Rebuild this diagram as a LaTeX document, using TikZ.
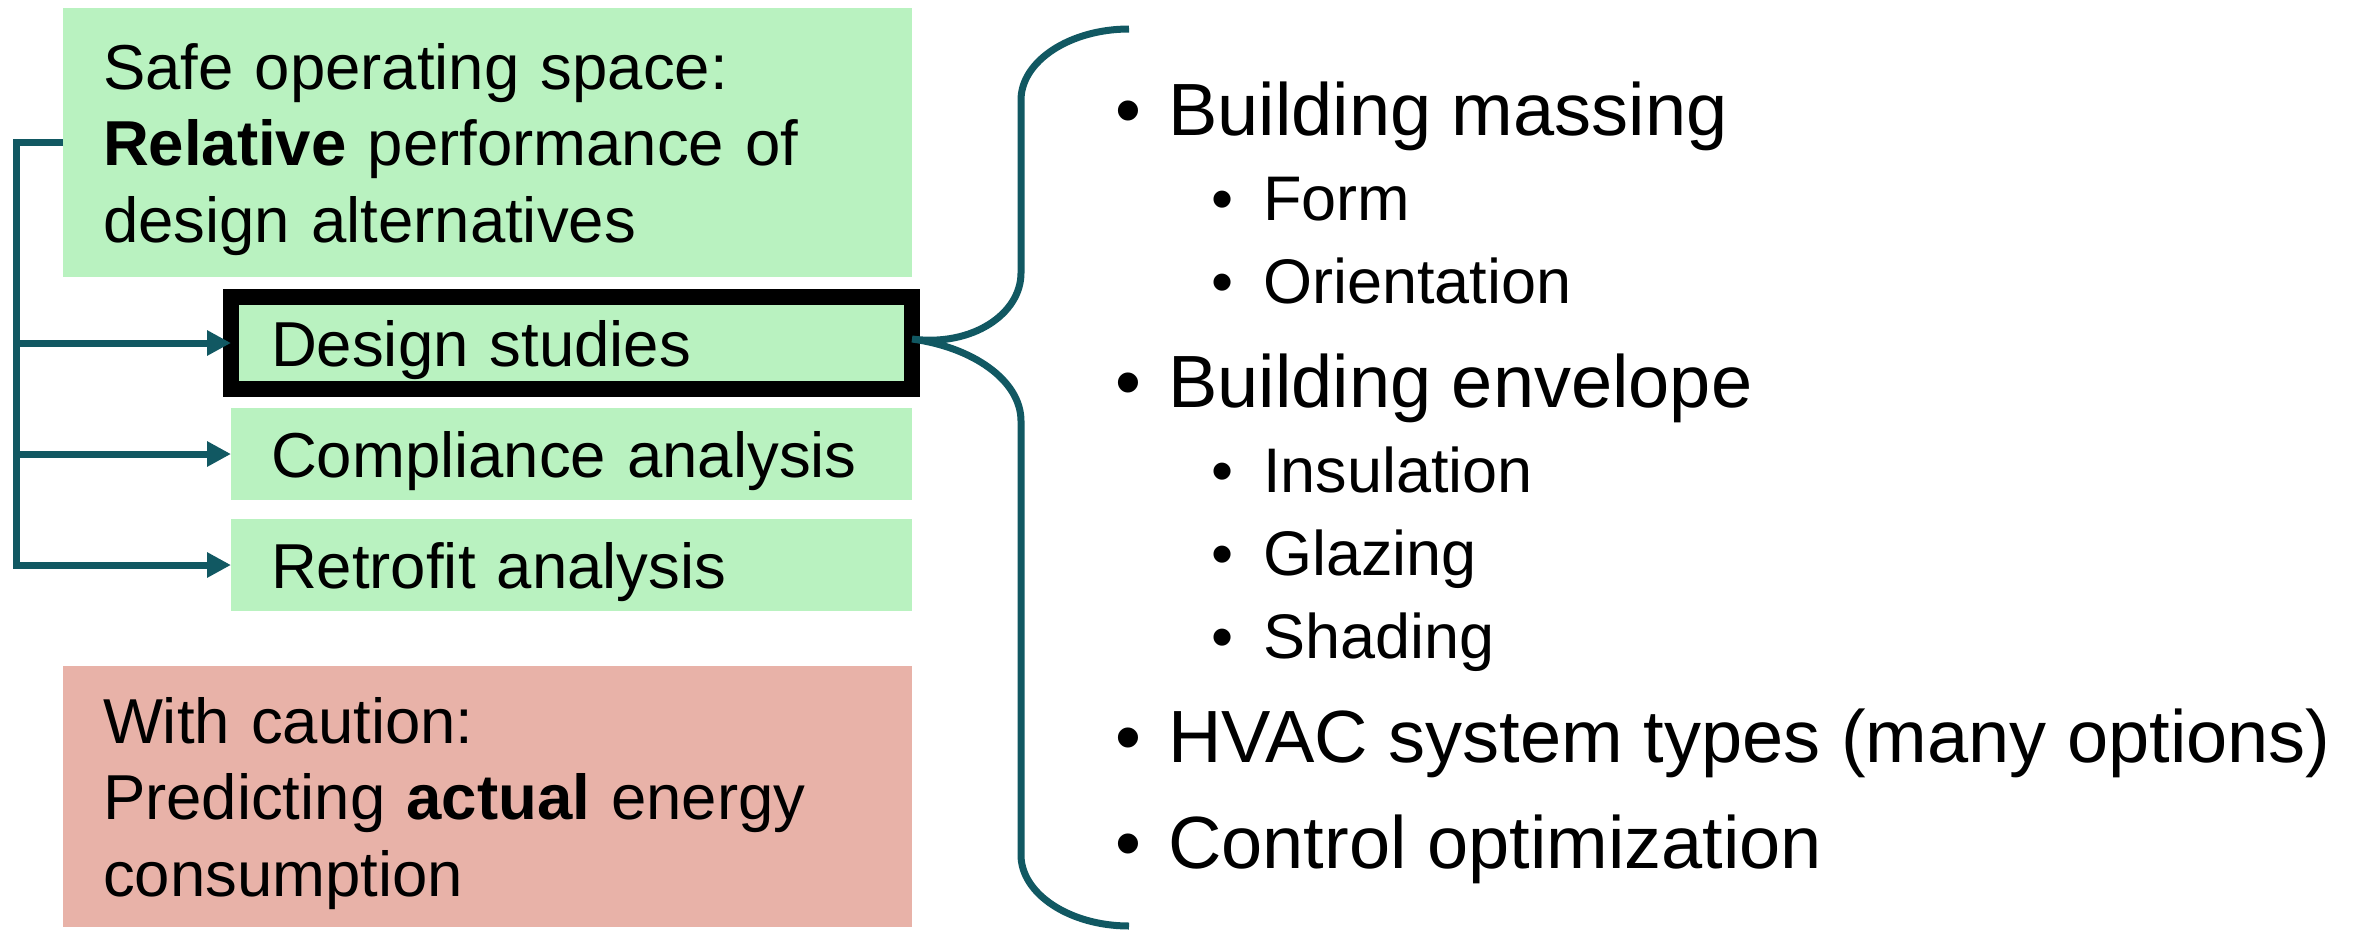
\documentclass[tikz,border=0pt]{standalone}
\usepackage{fontspec}
\setmainfont{Liberation Sans}
\usetikzlibrary{arrows.meta}
\definecolor{SafeGreen}{RGB}{185,242,192}
\definecolor{CautionRed}{RGB}{232,178,168}
\definecolor{LinkTeal}{RGB}{17,88,98}

\begin{document}
\begin{tikzpicture}[yscale=-1,x=1pt,y=1pt,
    panel/.style={fill=SafeGreen,anchor=north west,outer sep=0pt,
            inner xsep=40pt,inner ysep=0pt,align=left,
            font=\fontsize{63.5pt}{76.5pt}\selectfont,
            text height=46pt,text depth=0pt},
    tall/.style={text width=769pt,text depth=153pt},
    slim/.style={text width=601pt,minimum height=92pt},
    link/.style={draw=LinkTeal,line width=7pt},
    feed/.style={-{Triangle[length=24pt,width=24pt]}},
    item/.style={anchor=base west,inner sep=0pt,
            font=\fontsize{74pt}{89pt}\selectfont},
    subitem/.style={anchor=base west,inner sep=0pt,
            font=\fontsize{63pt}{76pt}\selectfont}]
    \useasboundingbox (0,0) rectangle (2364,930);
    % left column
    \node[panel,tall,minimum height=269pt] (safe) at (63,8)
       {Safe operating space:\\\textbf{Relative} performance of\\design alternatives};
    \node[panel,slim,draw=black,line width=16pt] (design) at (231,297) {Design studies};
    \node[panel,slim] (compliance) at (231,408) {Compliance analysis};
    \node[panel,slim] (retrofit) at (231,519) {Retrofit analysis};
    \node[panel,tall,fill=CautionRed,minimum height=261pt] (caution) at (63,666)
       {With caution:\\Predicting \textbf{actual} energy\\consumption};
    \draw[link,feed] (safe.west) -- ++(-47,0) coordinate (bus) |- (retrofit.west);
    \foreach \N in {design,compliance}
       \draw[link,feed] (bus |- \N.west) -- (\N.west);
    % brace
    \coordinate (tip) at ([yshift=-4pt]design.east);
    \coordinate (list top) at (1129,29);
    \coordinate (list bottom) at (1129,926);
    \draw[link] (tip) .. controls (972,347) and (1021,314) .. (1021,273)
       -- (1021,100) .. controls (1021,61) and (1070,29) .. (list top)
       (tip) .. controls (972,347) and (1021,380) .. (1021,421)
       -- (1021,855) .. controls (1021,894) and (1070,926) .. (list bottom);
    % right list
    \path foreach \Y/\X [count=\N] in
       {135/Building massing,407/Building envelope,
        762/HVAC system types (many options),868/Control optimization}
       {(1115,\Y) node[item] (item\N) {\makebox[53pt][l]{•}\X}}
       foreach \Y/\X [count=\N] in
       {220/Form,303/Orientation,492/Insulation,575/Glazing,658/Shading}
       {(1211,\Y) node[subitem] (sub\N) {\makebox[52pt][l]{•}\X}};
\end{tikzpicture}
\end{document}
